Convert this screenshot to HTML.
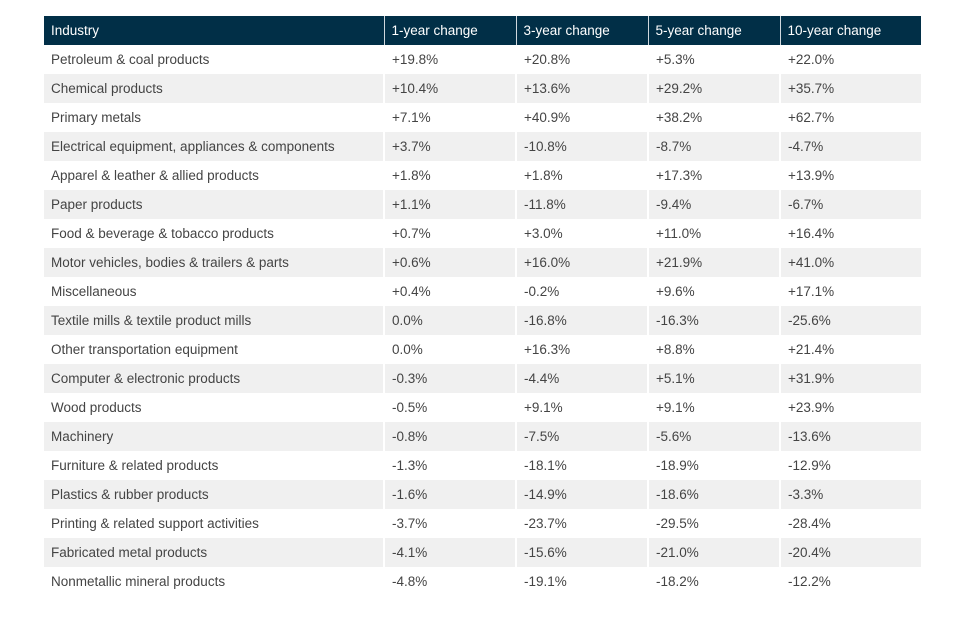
<!DOCTYPE html>
<html><head><meta charset="utf-8"><style>
body{margin:0;background:#fff;width:975px;height:622px;overflow:hidden;font-family:"Liberation Sans",sans-serif;}
table{position:absolute;left:44px;top:16px;border-collapse:collapse;table-layout:fixed;width:877px;}
td,th{height:29px;padding:0 0 0 7px;font-size:13.5px;color:#444;text-align:left;font-weight:normal;border-left:2px solid #fff;white-space:nowrap;box-sizing:border-box;}
td:first-child,th:first-child{border-left:none;}
th{background:#012f47;color:#fff;border-left:1px solid #d0d8de;}
tr:nth-child(odd) td{background:#f0f0f0;}
</style></head><body>
<table>
<colgroup><col style="width:340px"><col style="width:132px"><col style="width:132px"><col style="width:132px"><col style="width:141px"></colgroup>
<tr><th>Industry</th><th>1-year change</th><th>3-year change</th><th>5-year change</th><th>10-year change</th></tr>
<tr><td>Petroleum &amp; coal products</td><td>+19.8%</td><td>+20.8%</td><td>+5.3%</td><td>+22.0%</td></tr>
<tr><td>Chemical products</td><td>+10.4%</td><td>+13.6%</td><td>+29.2%</td><td>+35.7%</td></tr>
<tr><td>Primary metals</td><td>+7.1%</td><td>+40.9%</td><td>+38.2%</td><td>+62.7%</td></tr>
<tr><td>Electrical equipment, appliances &amp; components</td><td>+3.7%</td><td>-10.8%</td><td>-8.7%</td><td>-4.7%</td></tr>
<tr><td>Apparel &amp; leather &amp; allied products</td><td>+1.8%</td><td>+1.8%</td><td>+17.3%</td><td>+13.9%</td></tr>
<tr><td>Paper products</td><td>+1.1%</td><td>-11.8%</td><td>-9.4%</td><td>-6.7%</td></tr>
<tr><td>Food &amp; beverage &amp; tobacco products</td><td>+0.7%</td><td>+3.0%</td><td>+11.0%</td><td>+16.4%</td></tr>
<tr><td>Motor vehicles, bodies &amp; trailers &amp; parts</td><td>+0.6%</td><td>+16.0%</td><td>+21.9%</td><td>+41.0%</td></tr>
<tr><td>Miscellaneous</td><td>+0.4%</td><td>-0.2%</td><td>+9.6%</td><td>+17.1%</td></tr>
<tr><td>Textile mills &amp; textile product mills</td><td>0.0%</td><td>-16.8%</td><td>-16.3%</td><td>-25.6%</td></tr>
<tr><td>Other transportation equipment</td><td>0.0%</td><td>+16.3%</td><td>+8.8%</td><td>+21.4%</td></tr>
<tr><td>Computer &amp; electronic products</td><td>-0.3%</td><td>-4.4%</td><td>+5.1%</td><td>+31.9%</td></tr>
<tr><td>Wood products</td><td>-0.5%</td><td>+9.1%</td><td>+9.1%</td><td>+23.9%</td></tr>
<tr><td>Machinery</td><td>-0.8%</td><td>-7.5%</td><td>-5.6%</td><td>-13.6%</td></tr>
<tr><td>Furniture &amp; related products</td><td>-1.3%</td><td>-18.1%</td><td>-18.9%</td><td>-12.9%</td></tr>
<tr><td>Plastics &amp; rubber products</td><td>-1.6%</td><td>-14.9%</td><td>-18.6%</td><td>-3.3%</td></tr>
<tr><td>Printing &amp; related support activities</td><td>-3.7%</td><td>-23.7%</td><td>-29.5%</td><td>-28.4%</td></tr>
<tr><td>Fabricated metal products</td><td>-4.1%</td><td>-15.6%</td><td>-21.0%</td><td>-20.4%</td></tr>
<tr><td>Nonmetallic mineral products</td><td>-4.8%</td><td>-19.1%</td><td>-18.2%</td><td>-12.2%</td></tr>
</table>
</body></html>
